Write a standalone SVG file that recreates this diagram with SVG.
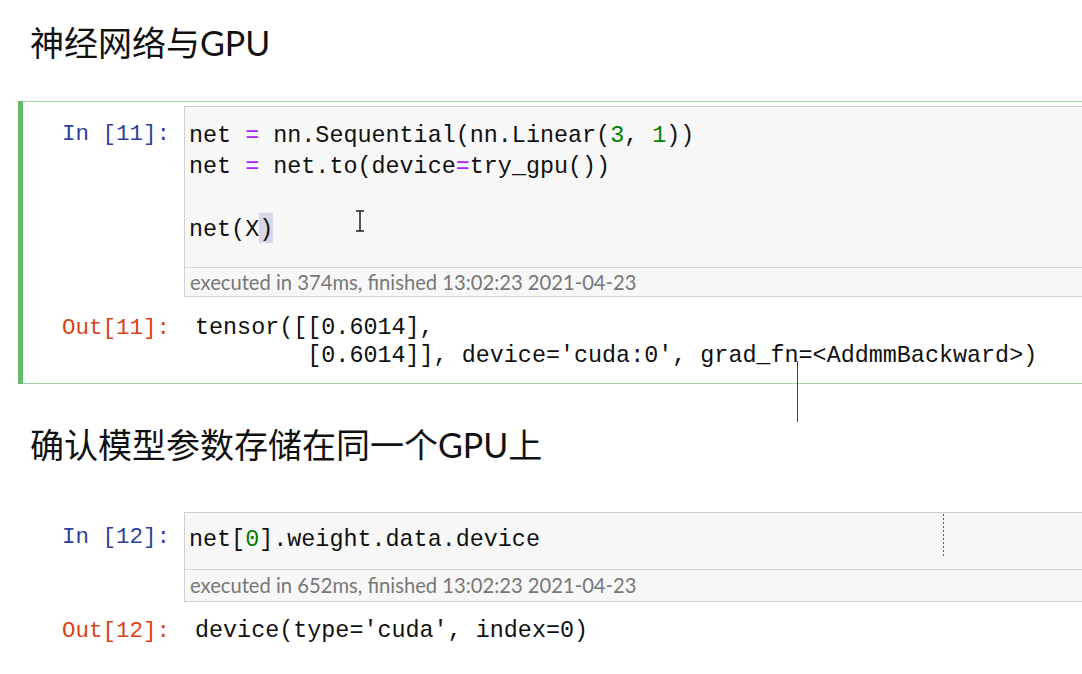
<svg xmlns="http://www.w3.org/2000/svg" width="1082" height="674" viewBox="0 0 1082 674">
<style>
.h{font-family:"Lato","Noto Sans CJK SC",sans-serif;font-size:34px;fill:#111}
.c{font-family:"Liberation Mono",monospace;font-size:23.4px;fill:#111;white-space:pre}
.p{font-family:"Liberation Mono",monospace;font-size:22.5px}
.in{fill:#303f9f}.out{fill:#d84315}
.op{fill:#aa22ff}.n{fill:#008000}
.ex{font-family:"Lato","Open Sans",sans-serif;font-size:20.2px;fill:#777}
.box{fill:#f7f7f7;stroke:#cfcfcf;stroke-width:1}
</style>
<rect width="1082" height="674" fill="#fff"/>
<text class="h" x="30" y="56">神经网络与GPU</text>
<g id="cell1">
<rect x="18.5" y="101.5" width="1070" height="282" fill="#fff" stroke="#a5d6a7"/>
<rect x="18" y="101" width="5" height="283" fill="#66bb6a"/>
<text class="p in" x="62" y="140">In [11]:</text>
<rect class="box" x="184.5" y="106.5" width="900" height="190"/>
<line x1="185" y1="267.5" x2="1082" y2="267.5" stroke="#d5d5d5"/>
<rect x="259" y="213" width="14" height="30" fill="#d7d7e8"/>
<text class="c" x="189" y="142">net <tspan class="op">=</tspan> nn.Sequential(nn.Linear(<tspan class="n">3</tspan>, <tspan class="n">1</tspan>))</text>
<text class="c" x="189" y="173">net <tspan class="op">=</tspan> net.to(device<tspan class="op">=</tspan>try_gpu())</text>
<text class="c" x="189" y="236">net(X)</text>
<path d="M356 211h8M360 211v20M356 231h8" stroke="#222" stroke-width="1.5" fill="none"/>
<text class="ex" x="190" y="290">executed in 374ms, finished 13:02:23 2021-04-23</text>
<text class="p out" x="62" y="334">Out[11]:</text>
<text class="c" x="195" y="334">tensor([[0.6014],</text>
<text class="c" x="195" y="362">        [0.6014]], device='cuda:0', grad_fn=&lt;AddmmBackward&gt;)</text>
<line x1="797.5" y1="361" x2="797.5" y2="422" stroke="#444" stroke-width="1"/>
</g>
<text class="h" x="30" y="458">确认模型参数存储在同一个GPU上</text>
<g id="cell2">
<text class="p in" x="62" y="543">In [12]:</text>
<rect class="box" x="184.5" y="512.5" width="900" height="89"/>
<line x1="185" y1="569.5" x2="1082" y2="569.5" stroke="#d5d5d5"/>
<line x1="943.5" y1="514" x2="943.5" y2="556" stroke="#c33" stroke-dasharray="2,2"/>
<text class="c" x="189" y="546">net[<tspan class="n">0</tspan>].weight.data.device</text>
<text class="ex" x="190" y="593">executed in 652ms, finished 13:02:23 2021-04-23</text>
<text class="p out" x="62" y="637">Out[12]:</text>
<text class="c" x="195" y="637">device(type='cuda', index=0)</text>
</g>
</svg>
